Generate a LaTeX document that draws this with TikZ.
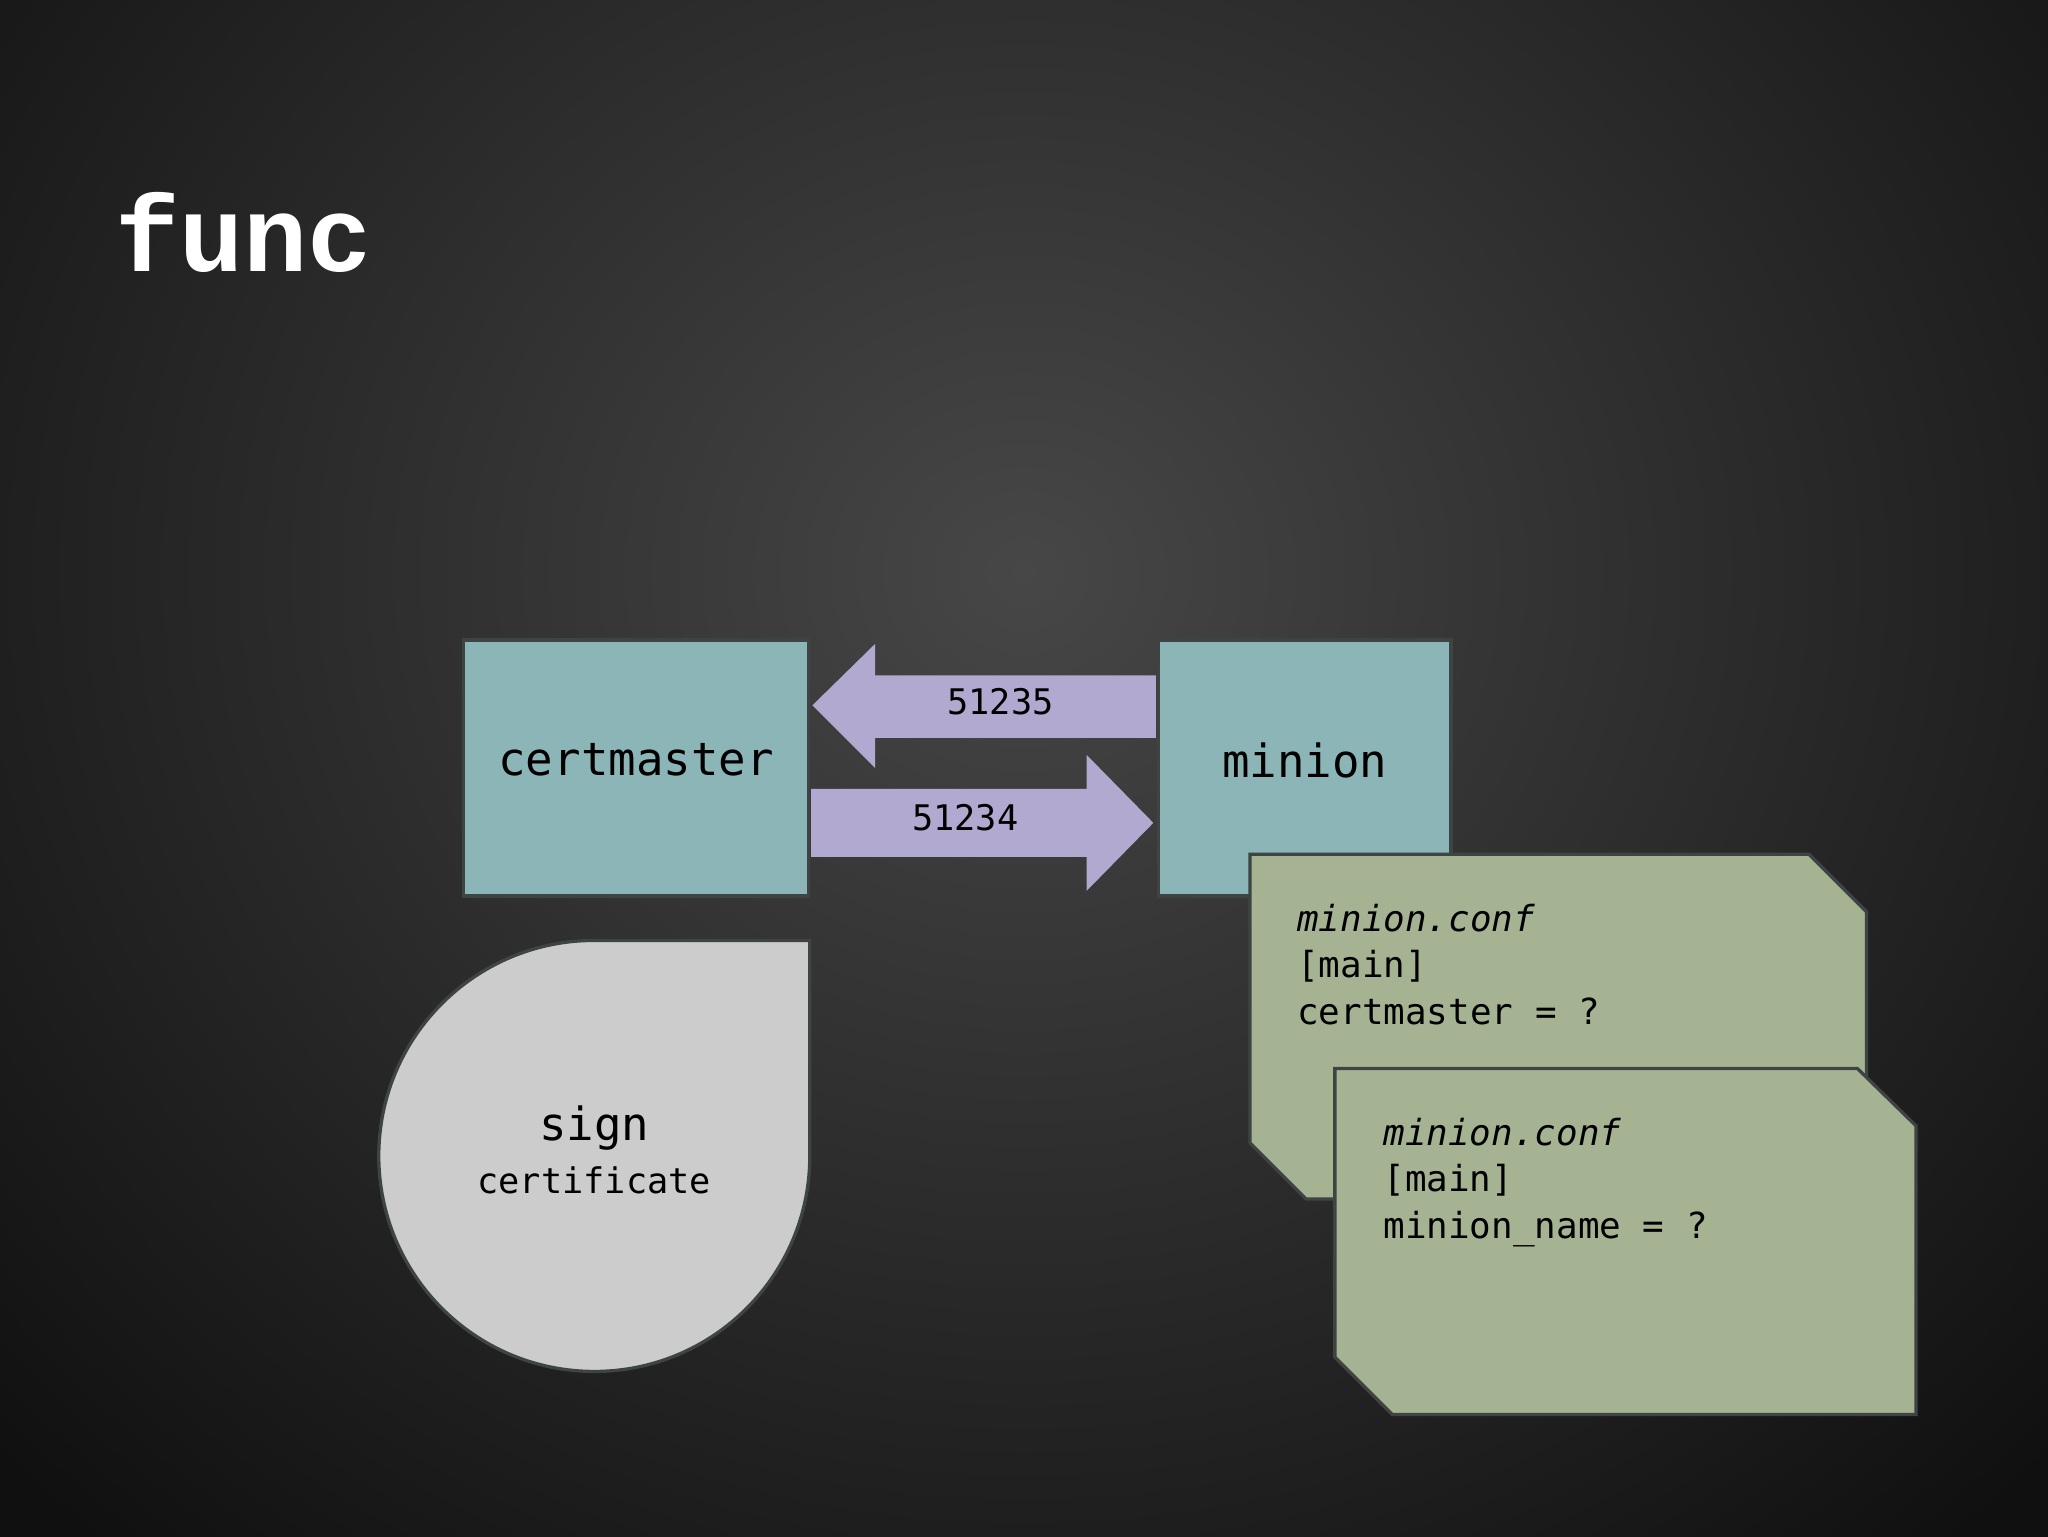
\documentclass[tikz,border=0pt]{standalone}
\usepackage{fontspec}
\setmonofont{DejaVu Sans Mono}
\newfontfamily\titlefont{Liberation Mono}
\usetikzlibrary{shadings}
\definecolor{bgin}{HTML}{474747}
\definecolor{bgout}{HTML}{101010}
\definecolor{teal}{HTML}{8BB5B6}
\definecolor{lav}{HTML}{B1A9D0}
\definecolor{sage}{HTML}{A6B392}
\definecolor{lgray}{HTML}{CCCCCC}
\definecolor{edge}{HTML}{3E4444}
\begin{document}
\begin{tikzpicture}[x=1pt,y=-1pt,
  box/.style={draw=edge,line width=2.5pt,fill=teal},
  arr/.style={fill=lav,draw=none},
  big/.style={font=\ttfamily\fontsize{35}{40}\selectfont},
  small/.style={font=\ttfamily\fontsize{27}{32}\selectfont},
  conf/.style={draw=edge,line width=2.5pt,fill=sage},
  ctext/.style={font=\ttfamily\fontsize{27.5}{35.5}\selectfont,align=left,anchor=north west,inner sep=0pt}]
\useasboundingbox (0,0) rectangle (1568,1176);
\shade[inner color=bgin,outer color=bgout] (-300,-550) rectangle (1868,1426);
\node[anchor=west,text=white,font=\titlefont\bfseries\fontsize{82}{90}\selectfont,inner sep=0pt] (title) at (88,178) {func};
\draw[box] (355,490) rectangle (619,686);
\node[big] (cm) at (487,582) {certmaster};
\draw[box] (887,490) rectangle (1111,686);
\node[big] (mn) at (999,582) {minion};
\fill[arr] (622,540) -- (670,493) -- (670,517) -- (885,517) -- (885,565) -- (670,565) -- (670,588) -- cycle;
\node[small] (p1) at (766,537) {51235};
\fill[arr] (621,604) -- (832,604) -- (832,578) -- (883,630) -- (832,682) -- (832,656) -- (621,656) -- cycle;
\node[small] (p2) at (739,626) {51234};
\draw[draw=edge,line width=2.5pt,fill=lgray] (455,720) -- (620,720) -- (620,885) arc[start angle=0,end angle=270,radius=165] -- cycle;
\node[big] (sg) at (455,864) {sign};
\node[small] (ce) at (455,904) {certificate};
\draw[conf] (957,654) -- (1385,654) -- (1429,698) -- (1429,918) -- (1000,918) -- (957,875) -- cycle;
\node[ctext] (c1) at (993,692) {\textit{minion.conf}\\{[main]}\\certmaster = ?};
\draw[conf] (1022,818) -- (1422,818) -- (1467,862) -- (1467,1083) -- (1066,1083) -- (1022,1039) -- cycle;
\node[ctext] (c2) at (1059,856) {\textit{minion.conf}\\{[main]}\\minion\_name = ?};
\end{tikzpicture}
\end{document}
